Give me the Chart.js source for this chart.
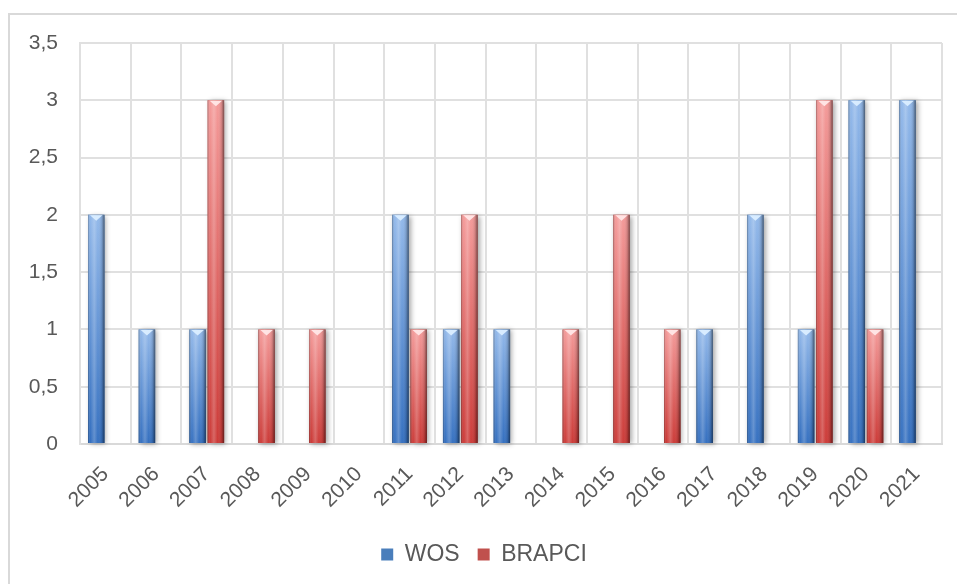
<!DOCTYPE html>
<html>
<head>
<meta charset="utf-8">
<script src="https://cdn.jsdelivr.net/npm/chart.js@4"></script>
<style>
  html, body { margin: 0; padding: 0; background: #fff; overflow: hidden; }
  #wrap { position: relative; width: 957px; height: 584px; }
  #frame { position: absolute; left: 8px; top: 13px; width: 1000px; height: 1000px; border: 2px solid #d9d9d9; }
  #chart { position: absolute; left: 0; top: 0; }
</style>
</head>
<body>
<div id="wrap">
  <div id="frame"></div>
  <canvas id="chart" width="957" height="584"></canvas>
</div>
<script>
const years = ["2005", "2006", "2007", "2008", "2009", "2010", "2011", "2012", "2013",
  "2014", "2015", "2016", "2017", "2018", "2019", "2020", "2021"];
const wos = [2, 1, 1, 0, 0, 0, 2, 1, 1, 0, 0, 0, 1, 2, 1, 3, 3];
const brapci = [0, 0, 3, 1, 1, 0, 1, 2, 0, 1, 2, 1, 0, 0, 3, 1, 0];
const seriesNames = ["WOS", "BRAPCI"];

// bar colours: top of bar, bottom of bar, little bevel at the top
const shades = [
  { top: "#93b9ea", bottom: "#3570c0", cap: "#d8ecff" },
  { top: "#f49b9a", bottom: "#cc3b38", cap: "#ffe4e4" },
];

const fmt = (v) => String(v).replace(".", ",");

// paint each bar like the office "cylinder" bars, using the bar geometry from the chart
const barShade = {
  id: "barShade",
  afterDatasetsDraw(chart) {
    const c = chart.ctx;
    chart.data.datasets.forEach((ds, i) => {
      const s = shades[i];
      chart.getDatasetMeta(i).data.forEach((bar) => {
        const { x, y, base, width } = bar.getProps(["x", "y", "base", "width"], true);
        const h = base - y;
        if (h < 1) return;
        const l = x - width / 2;
        const r = x + width / 2;

        const vg = c.createLinearGradient(0, y, 0, base);
        vg.addColorStop(0, s.top);
        vg.addColorStop(1, s.bottom);
        c.save();
        c.shadowColor = "rgba(0,0,0,0.35)";
        c.shadowBlur = 5;
        c.shadowOffsetX = 2;
        c.shadowOffsetY = 1;
        c.fillStyle = vg;
        c.fillRect(l, y, width, h);
        c.restore();

        const hg = c.createLinearGradient(l, 0, r, 0);
        hg.addColorStop(0, "rgba(0,0,0,0.30)");
        hg.addColorStop(0.15, "rgba(255,255,255,0)");
        hg.addColorStop(0.38, "rgba(255,255,255,0.22)");
        hg.addColorStop(0.6, "rgba(255,255,255,0)");
        hg.addColorStop(0.85, "rgba(0,0,0,0.15)");
        hg.addColorStop(1, "rgba(0,0,0,0.5)");
        c.fillStyle = hg;
        c.fillRect(l, y, width, h);

        c.beginPath();
        c.moveTo(l + 2, y + 0.5);
        c.lineTo(r - 2, y + 0.5);
        c.lineTo(x, y + 6);
        c.closePath();
        c.fillStyle = s.cap;
        c.fill();
      });
    });
  },
};

new Chart(document.getElementById("chart"), {
  type: "bar",
  data: {
    labels: years,
    datasets: [
      { label: seriesNames[0], data: wos, backgroundColor: "#4a7ebb", borderWidth: 0 },
      { label: seriesNames[1], data: brapci, backgroundColor: "#c0504d", borderWidth: 0 },
    ],
  },
  options: {
    responsive: false,
    animation: false,
    layout: { padding: { left: 26, right: 15, top: 43, bottom: 8 } },
    datasets: { bar: { categoryPercentage: 0.72, barPercentage: 0.9 } },
    scales: {
      x: {
        grid: { color: "#e0e0e0", lineWidth: 2, drawTicks: false },
        border: { color: "#d9d9d9", width: 2 },
        ticks: {
          color: "#595959",
          font: { family: "Liberation Sans", size: 21 },
          minRotation: 45,
          maxRotation: 45,
          padding: 18,
        },
        afterFit(scale) { scale.height = 81; },
      },
      y: {
        min: 0,
        max: 3.5,
        grid: { color: "#e0e0e0", lineWidth: 2, drawTicks: false },
        border: { color: "#e0e0e0", width: 2 },
        ticks: {
          stepSize: 0.5,
          color: "#595959",
          font: { family: "Liberation Sans", size: 21 },
          padding: 22,
          callback: (v) => fmt(v),
        },
        afterFit(scale) { scale.width = 54; },
      },
    },
    plugins: {
      tooltip: { enabled: false },
      legend: {
        position: "bottom",
        labels: {
          color: "#595959",
          font: { family: "Liberation Sans", size: 23 },
          boxWidth: 12,
          boxHeight: 12,
          padding: 18,
        },
      },
    },
  },
  plugins: [barShade],
});
</script>
</body>
</html>
